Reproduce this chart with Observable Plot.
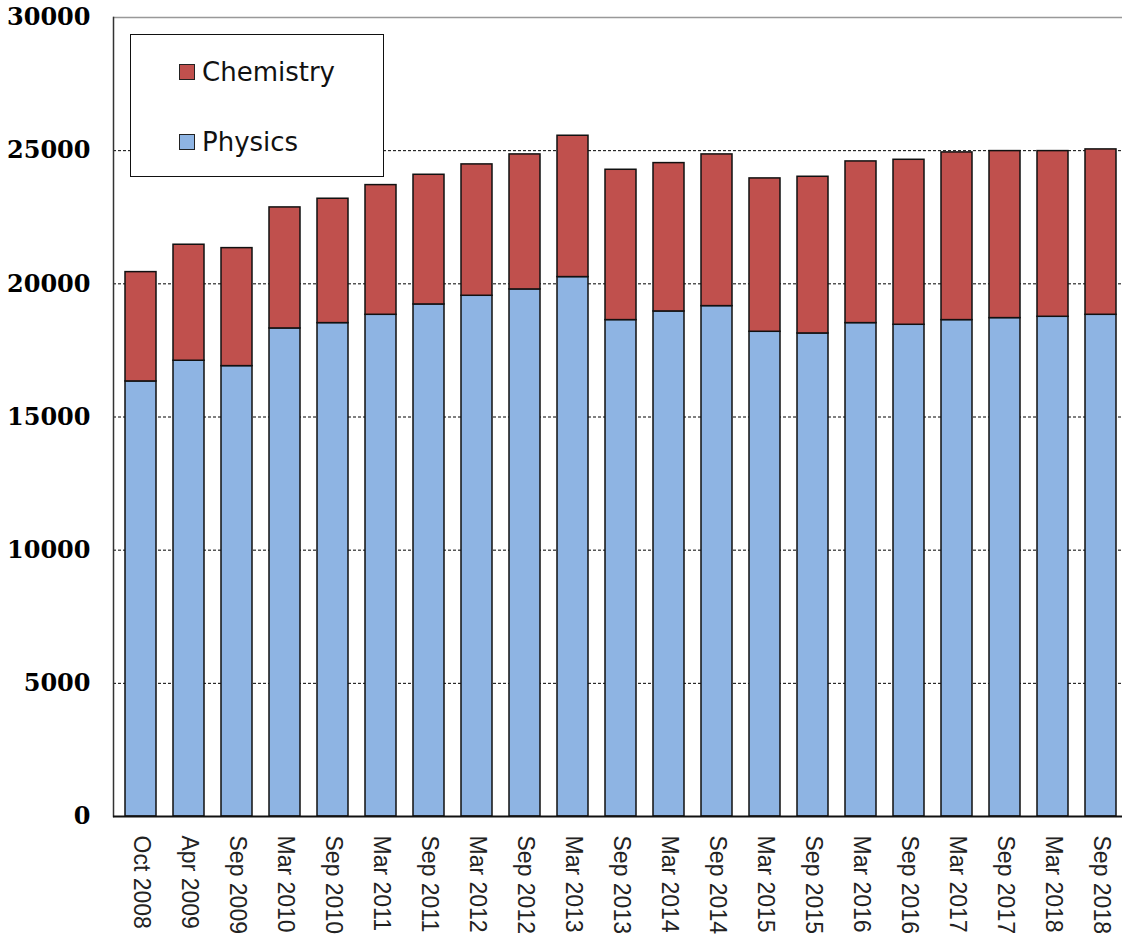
<!DOCTYPE html>
<html>
<head>
<meta charset="utf-8">
<script src="https://cdn.jsdelivr.net/npm/d3@7"></script>
<script src="https://cdn.jsdelivr.net/npm/@observablehq/plot@0.6"></script>
<style>
  html, body { margin: 0; padding: 0; background: #fff; }
  #wrap { position: relative; width: 1122px; height: 939px; }
  #legend {
    position: absolute; left: 130px; top: 34px; width: 252px; height: 141px;
    border: 1.5px solid #111; background: #fff; box-sizing: content-box;
    font-family: "DejaVu Sans", Verdana, sans-serif; font-size: 26px; color: #111;
  }
  .item { position: absolute; left: 48px; display: flex; align-items: center; }
  .sw { width: 14px; height: 14px; border: 1.5px solid #222; margin-right: 7px; }
</style>
</head>
<body>
<div id="wrap">
  <div id="chart"></div>
  <div id="legend"></div>
</div>
<script>
const categories = ["Oct 2008","Apr 2009","Sep 2009","Mar 2010","Sep 2010","Mar 2011","Sep 2011","Mar 2012","Sep 2012","Mar 2013","Sep 2013","Mar 2014","Sep 2014","Mar 2015","Sep 2015","Mar 2016","Sep 2016","Mar 2017","Sep 2017","Mar 2018","Sep 2018"];
const physics = [16335,17112,16910,18325,18525,18838,19226,19552,19790,20253,18638,18963,19163,18200,18137,18525,18463,18638,18713,18763,18838];
const totals  = [20440,21468,21341,22869,23195,23707,24095,24484,24859,25560,24283,24533,24859,23958,24020,24596,24658,24934,24984,24984,25047];
const chemistry = totals.map((t, i) => t - physics[i]);
const seriesNames = ["Physics", "Chemistry"];
const seriesColors = ["#8EB4E3", "#C0504D"];
const yTicks = [0, 5000, 10000, 15000, 20000, 25000, 30000];
const gridTicks = [5000, 10000, 15000, 20000, 25000];

const rows = [];
categories.forEach((c, i) => rows.push({cat: c, series: "Physics", value: physics[i]}));
categories.forEach((c, i) => rows.push({cat: c, series: "Chemistry", value: chemistry[i]}));

const chart = Plot.plot({
  width: 1122,
  height: 939,
  marginTop: 17,
  marginBottom: 123,
  marginLeft: 113,
  marginRight: 0,
  x: {domain: categories, range: [113, 1127], paddingInner: 0.358, paddingOuter: 0.179, label: null},
  y: {domain: [0, 30000], label: null},
  color: {domain: seriesNames, range: seriesColors},
  style: {background: "#fff", overflow: "visible"},
  marks: [
    Plot.gridY(gridTicks, {stroke: "#000", strokeOpacity: 1, strokeWidth: 1, strokeDasharray: "3,2"}),
    Plot.ruleY([30000], {stroke: "#999", strokeWidth: 1.5}),
    Plot.frame({anchor: "left", stroke: "#333", strokeWidth: 1.5}),
    Plot.barY(rows, {x: "cat", y: "value", fill: "series", stroke: "#111", strokeWidth: 1.5, order: null}),
    Plot.ruleY([0], {stroke: "#111", strokeWidth: 2}),
    Plot.axisY(yTicks, {tickSize: 0, tickPadding: 23, tickFormat: d => String(d), fontFamily: "DejaVu Serif", fontWeight: "bold", fontSize: 24, fill: "#000"}),
    Plot.axisX({tickSize: 0, tickPadding: 19, tickRotate: 90, fontFamily: "Liberation Sans, Arial, sans-serif", fontSize: 23, fill: "#222", label: null})
  ]
});
document.getElementById("chart").appendChild(chart);

const legend = document.getElementById("legend");
[["Chemistry", seriesColors[1], 22], ["Physics", seriesColors[0], 92]].forEach(([name, col, top]) => {
  const it = document.createElement("div");
  it.className = "item";
  it.style.top = top + "px";
  const sw = document.createElement("div");
  sw.className = "sw";
  sw.style.background = col;
  const tx = document.createElement("span");
  tx.textContent = name;
  it.appendChild(sw); it.appendChild(tx);
  legend.appendChild(it);
});
</script>
</body>
</html>
